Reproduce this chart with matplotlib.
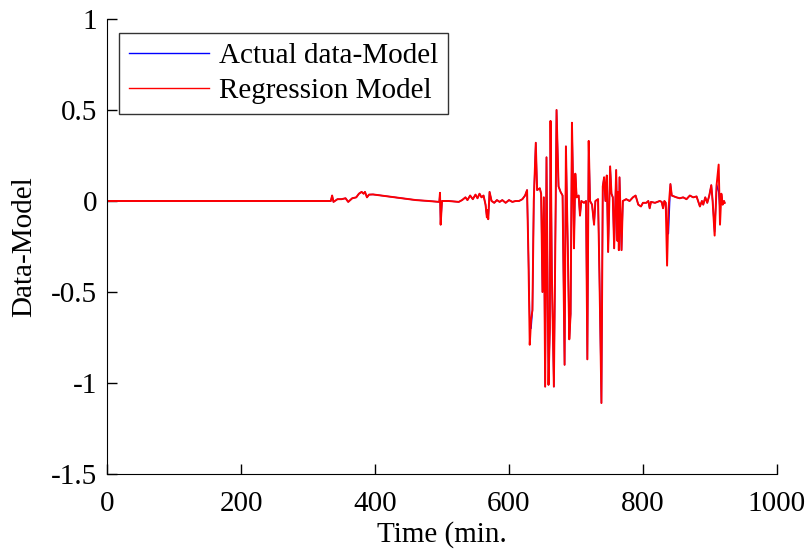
import matplotlib
matplotlib.use('Agg')
import matplotlib.pyplot as plt

plt.rcParams['font.family'] = ['Liberation Serif', 'DejaVu Serif']
plt.rcParams['axes.unicode_minus'] = False

# breakpoints (time in min., value = data - model)
time = [0, 334, 336, 338, 344, 350, 356, 360, 366, 372,
        376, 380, 383, 385, 388, 391, 397, 420, 440, 461,
        480, 496, 497, 498, 500, 510, 525, 530, 535, 538,
        542, 546, 550, 553, 556, 559, 562, 565, 567, 568,
        569, 571, 574, 578, 582, 586, 590, 595, 600, 605,
        610, 615, 620, 624, 627, 629, 631, 633, 635, 637,
        640, 642, 646, 648, 650, 652, 654, 656, 658, 659,
        661, 662, 664, 667, 669, 671, 674, 677, 680, 683,
        685, 688, 690, 692, 694, 696, 697, 699, 701, 704,
        706, 708, 712, 715, 717, 719, 721, 724, 727, 729,
        733, 735, 738, 740, 742, 744, 746, 748, 751, 753,
        755, 757, 760, 762, 763, 764, 765, 768, 770, 775,
        780, 785, 789, 793, 797, 800, 805, 808, 810, 812,
        818, 825, 828, 830, 832, 834, 836, 838, 841, 843,
        850, 855, 860, 865, 870, 875, 880, 885, 888, 890,
        893, 896, 899, 902, 904, 907, 910, 913, 915, 917,
        919, 921, 922]

regression = [0, 0, 0.03, -0.005, 0.01, 0.01, 0.015, -0.005, 0.015, 0.02,
              0.04, 0.05, 0.04, 0.05, 0.02, 0.035, 0.036, 0.025, 0.015, 0.005,
              0.0, -0.005, 0.045, -0.13, 0.0, 0.0, -0.005, 0.005, 0.02, 0.005,
              0.03, 0.01, 0.035, 0.015, 0.04, 0.02, 0.03, -0.02, -0.09, -0.05,
              -0.1, 0.05, 0.0, -0.01, 0.005, -0.005, 0.005, -0.01, 0.005, -0.005,
              0.0, 0.0, 0.01, 0.03, 0.06, -0.3, -0.79, -0.65, -0.6, 0.0,
              0.32, 0.06, 0.07, 0.04, -0.5, 0.02, -1.02, 0.24, -0.6, -1.01,
              -0.7, 0.44, -0.4, -1.02, -0.3, 0.5, 0.08, 0.05, 0.03, -0.9,
              0.3, -0.3, -0.76, -0.62, 0.43, 0.03, -0.26, 0.15, 0.02, 0.03,
              -0.08, 0.0, -0.01, 0.0, -0.87, 0.33, 0.0, -0.02, -0.13, 0.0,
              0.01, -0.4, -1.11, 0.08, 0.13, 0.0, 0.14, -0.28, 0.19, 0.04,
              0.02, -0.26, 0.17, -0.22, 0.05, -0.27, 0.13, -0.27, 0.0, 0.01,
              0.0, 0.02, 0.03, -0.02, -0.03, -0.01, -0.01, 0.0, -0.04, -0.005,
              -0.01, 0.0, -0.005, -0.04, 0.0, -0.01, -0.355, -0.05, 0.093, 0.03,
              0.02, 0.015, 0.02, 0.01, 0.03, 0.02, 0.025, -0.03, 0.0, -0.02,
              0.02, -0.01, 0.03, 0.087, 0.0, -0.19, 0.09, 0.2, -0.13, 0.04,
              -0.02, 0.0, -0.01]

actual = [0, 0, 0.03, -0.005, 0.01, 0.01, 0.015, -0.005, 0.015, 0.02,
          0.04, 0.05, 0.04, 0.05, 0.02, 0.035, 0.036, 0.025, 0.015, 0.005,
          0.0, -0.005, 0.045, -0.13, 0.0, 0.0, -0.005, 0.005, 0.02, 0.005,
          0.03, 0.01, 0.035, 0.015, 0.04, 0.02, 0.03, -0.02, -0.09, -0.05,
          -0.1, 0.05, 0.0, -0.01, 0.005, -0.005, 0.005, -0.01, 0.005, -0.005,
          0.0, 0.0, 0.01, 0.03, 0.06, -0.3, -0.66, -0.7, -0.6, 0.0,
          0.32, 0.06, 0.07, 0.04, -0.5, 0.02, -1.02, 0.24, -0.6, -1.01,
          -0.7, 0.44, -0.4, -1.02, -0.3, 0.5, 0.08, 0.05, 0.03, -0.9,
          0.3, -0.3, -0.76, -0.62, 0.43, 0.03, -0.26, 0.15, 0.02, 0.03,
          -0.08, 0.0, -0.01, 0.0, -0.87, 0.33, 0.0, -0.02, -0.13, 0.0,
          0.01, -0.4, -1.11, 0.08, 0.13, 0.0, 0.14, -0.28, 0.19, 0.04,
          0.02, -0.26, 0.17, -0.22, 0.05, -0.27, 0.13, -0.27, 0.0, 0.01,
          0.0, 0.02, 0.03, -0.02, -0.03, -0.01, -0.01, 0.0, -0.04, -0.005,
          -0.01, 0.0, -0.005, -0.04, 0.0, -0.01, -0.16, -0.18, 0.093, 0.03,
          0.02, 0.015, 0.02, 0.01, 0.03, 0.02, 0.025, -0.03, 0.0, -0.02,
          0.02, -0.01, 0.03, 0.087, 0.0, -0.17, 0.09, 0.05, -0.05, 0.04,
          -0.02, 0.0, -0.01]

x_ticks = [0, 200, 400, 600, 800, 1000]
y_ticks = [1, 0.5, 0, -0.5, -1, -1.5]
y_tick_labels = ['1', '0.5', '0', '-0.5', '-1', '-1.5']

fig = plt.figure(figsize=(8.11, 5.52), dpi=100)
ax = fig.add_axes([0.132, 0.1413, 0.826, 0.8243])

ax.plot(time, actual, color='#0000ff', lw=1.0, label='Actual data-Model')
ax.plot(time, regression, color='#ff0000', lw=1.4, label='Regression Model')

ax.set_xlim(0, 1000)
ax.set_ylim(-1.5, 1)
ax.set_xticks(x_ticks)
ax.set_xticklabels([str(t) for t in x_ticks])
ax.set_yticks(y_ticks)
ax.set_yticklabels(y_tick_labels)

ax.spines['top'].set_visible(False)
ax.spines['right'].set_visible(False)
ax.tick_params(direction='in', length=7, width=1, labelsize=21)
ax.tick_params(axis='x', pad=12)
ax.tick_params(axis='y', pad=7)

ax.set_xlabel('Time (min.', fontsize=21, labelpad=3)
ax.set_ylabel('Data-Model', fontsize=21, labelpad=10)

leg = ax.legend(loc='upper left', bbox_to_anchor=(0.018, 0.969), borderaxespad=0,
                fontsize=21, frameon=True, fancybox=False, handlelength=2.75,
                borderpad=0.33, labelspacing=0.3, handletextpad=0.35)
leg.get_frame().set_edgecolor('black')
leg.get_frame().set_linewidth(1.0)
leg.get_lines()[0].set_linewidth(1.0)
leg.get_lines()[1].set_linewidth(1.0)

fig.savefig('out.png', dpi=100)
